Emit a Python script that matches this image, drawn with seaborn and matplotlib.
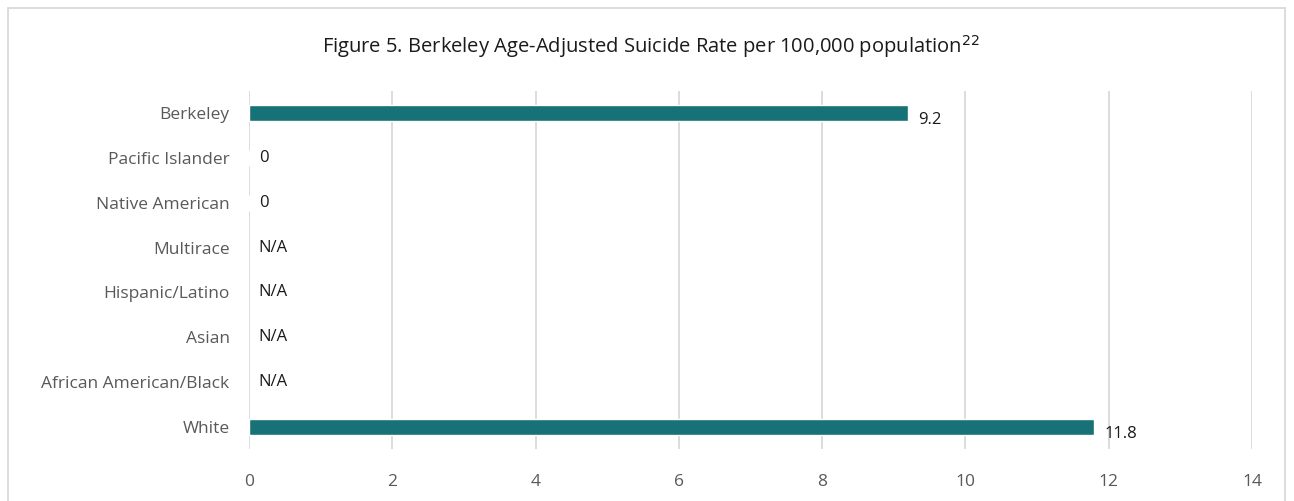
import matplotlib
matplotlib.use("Agg")
import matplotlib.pyplot as plt
import seaborn as sns
import pandas as pd
import numpy as np
from matplotlib.patches import Rectangle

categories = ["Berkeley", "Pacific Islander", "Native American", "Multirace",
              "Hispanic/Latino", "Asian", "African American/Black", "White"]
values = [9.2, 0, 0, np.nan, np.nan, np.nan, np.nan, 11.8]
value_labels = ["9.2", "0", "0", "N/A", "N/A", "N/A", "N/A", "11.8"]
x_ticks = [0, 2, 4, 6, 8, 10, 12, 14]

sns.set_theme(style="white")
plt.rcParams['font.family'] = ['Open Sans', 'DejaVu Sans']

df = pd.DataFrame({"cat": categories, "val": values})

fig = plt.figure(figsize=(12.94, 5.01), dpi=100)
ax = fig.add_axes([249/1294, 1-449/501, (1252-249)/1294, (449-91)/501])

sns.barplot(data=df, y="cat", x="val", order=categories, color="#167276",
            saturation=1, width=0.36, ax=ax, orient="h")

ax.set_xlim(0, 14)
ax.set_ylim(len(categories)-0.5, -0.5)
ax.set_xticks(x_ticks)
ax.set_xticklabels([str(t) for t in x_ticks])
ax.grid(axis="x", color="#d9d9d9", linewidth=1.3)
ax.set_axisbelow(True)
for s in ax.spines.values():
    s.set_visible(False)
ax.set_xlabel("")
ax.set_ylabel("")
ax.tick_params(axis="both", length=0, labelsize=12.5, colors="#595959")
ax.tick_params(axis="y", pad=14)
ax.tick_params(axis="x", pad=18)

for i, (v, lab) in enumerate(zip(values, value_labels)):
    xv = 0 if np.isnan(v) else v
    ax.annotate(lab, xy=(xv, i), xytext=(7, -5 if xv > 0 else 0),
                textcoords="offset points", ha="left", va="center",
                fontsize=12, color="#1a1a1a")

fig.text(651/1294, 1-47/501, "Figure 5. Berkeley Age-Adjusted Suicide Rate per 100,000 population$^{22}$",
         ha="center", va="center", fontsize=14.5, color="#1a1a1a")

fig.patches.append(Rectangle((8/1294, -0.1), (1285-8)/1294, 1-8/501+0.1,
                             transform=fig.transFigure, fill=False,
                             edgecolor="#d9d9d9", linewidth=1.3))

fig.savefig("out.png", dpi=100)
